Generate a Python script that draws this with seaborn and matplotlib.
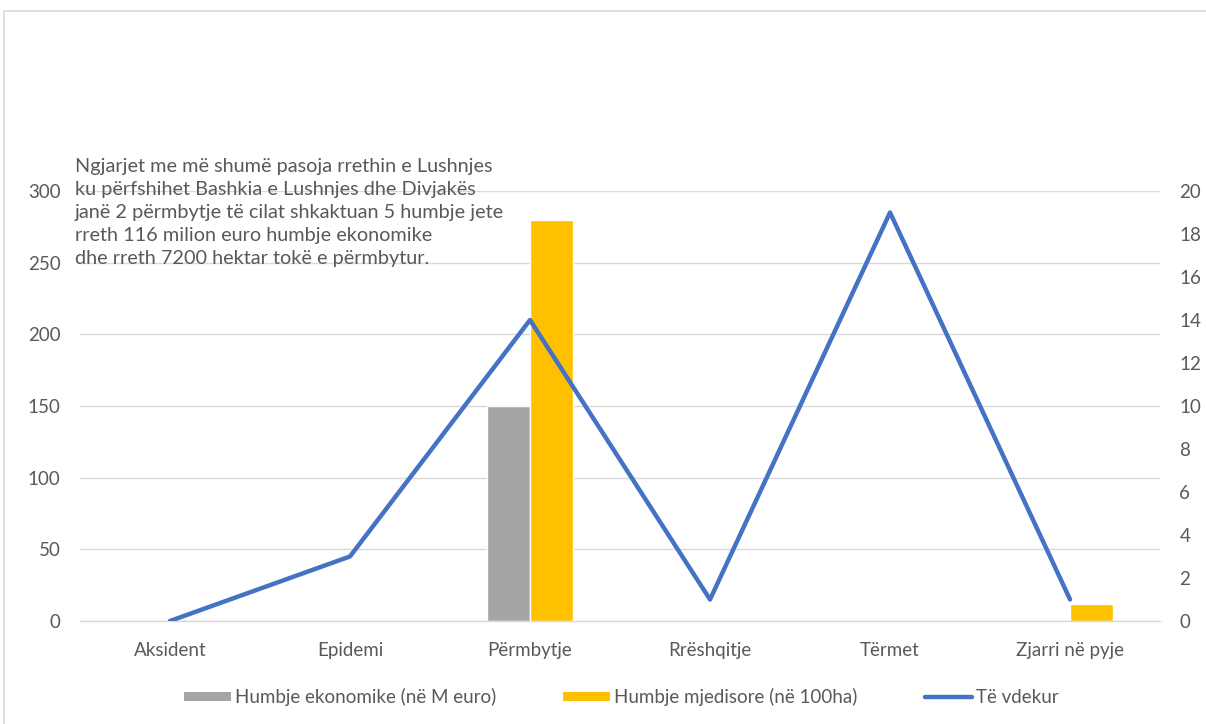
import numpy as np
import pandas as pd
import matplotlib
matplotlib.use("Agg")
import matplotlib.pyplot as plt
from matplotlib.patches import Rectangle, Patch
from matplotlib.lines import Line2D
import seaborn as sns

# Event categories and the series plotted for each
categories = ["Aksident", "Epidemi", "Përmbytje", "Rrëshqitje", "Tërmet", "Zjarri në pyje"]
economic_loss = [0, 0, 150, 0, 0, 0]        # Humbje ekonomike (në M euro)
environmental_loss = [0, 0, 280, 0, 0, 12]  # Humbje mjedisore (në 100ha)
deaths = [0, 3, 14, 1, 19, 1]               # Të vdekur

series_names = ["Humbje ekonomike (në M euro)", "Humbje mjedisore (në 100ha)"]
line_name = "Të vdekur"
note_lines = [
    "Ngjarjet me më shumë pasoja rrethin e Lushnjes",
    "ku përfshihet Bashkia e Lushnjes dhe Divjakës",
    "janë 2 përmbytje të cilat shkaktuan 5 humbje jete",
    "rreth 116 milion euro humbje ekonomike",
    "dhe rreth 7200 hektar tokë e përmbytur.",
]
left_ticks = [0, 50, 100, 150, 200, 250, 300]
right_ticks = [0, 2, 4, 6, 8, 10, 12, 14, 16, 18, 20]

GRAY = "#A5A5A5"
GOLD = "#FFC000"
BLUE = "#4472C4"
TEXT = "#595959"
GRID = "#D9D9D9"
FS = 13.5

sns.set_theme(style="white")
plt.rcParams["font.family"] = ["Lato", "DejaVu Sans"]

bars = pd.DataFrame({
    "Ngjarja": categories * 2,
    "Vlera": economic_loss + environmental_loss,
    "Seria": [series_names[0]] * len(categories) + [series_names[1]] * len(categories),
})
line = pd.DataFrame({"pos": np.arange(len(categories)), "Vlera": deaths})

fig = plt.figure(figsize=(12.06, 7.24), dpi=100)
ax = fig.add_axes([0.0663, 0.1423, 0.8956, 0.5939])

sns.barplot(data=bars, x="Ngjarja", y="Vlera", hue="Seria",
            palette=[GRAY, GOLD], width=0.48, gap=0, saturation=1,
            order=categories, hue_order=series_names, ax=ax, legend=False)
ax.set_xlim(-0.5, len(categories) - 0.5)
ax.set_ylim(0, 300)
ax.set_yticks(left_ticks)
ax.set_xlabel("")
ax.set_ylabel("")
ax.grid(axis="y", color=GRID, linewidth=1)
ax.set_axisbelow(True)
for s in ["top", "left", "right"]:
    ax.spines[s].set_visible(False)
ax.spines["bottom"].set_color(GRID)
ax.spines["bottom"].set_linewidth(1)
ax.tick_params(axis="both", length=0, colors=TEXT, labelsize=FS)
ax.tick_params(axis="y", pad=14)
ax.tick_params(axis="x", pad=15)

ax2 = ax.twinx()
sns.lineplot(data=line, x="pos", y="Vlera", color=BLUE, linewidth=3.2,
             sort=False, ax=ax2, legend=False)
ax2.set_ylim(0, 20)
ax2.set_yticks(right_ticks)
ax2.set_xlim(-0.5, len(categories) - 0.5)
ax2.set_ylabel("")
ax2.set_xlabel("")
ax2.grid(False)
for s in ax2.spines.values():
    s.set_visible(False)
ax2.tick_params(axis="y", length=0, colors=TEXT, labelsize=FS, pad=14)

# Explanatory note in the upper-left corner
fig.text(75 / 1206, 1 - 158 / 724, "\n".join(note_lines), ha="left", va="top",
         fontsize=14.3, color=TEXT, linespacing=1.42)

# Legend under the category axis
handles = [
    Patch(facecolor=GRAY, edgecolor="none", label=series_names[0]),
    Patch(facecolor=GOLD, edgecolor="none", label=series_names[1]),
    Line2D([0], [0], color=BLUE, linewidth=3.2, label=line_name),
]
fig.legend(handles=handles, loc="center", bbox_to_anchor=(0.515, 1 - 697 / 724),
           ncol=3, frameon=False, fontsize=FS, labelcolor=TEXT,
           handlelength=2.5, handleheight=0.4, handletextpad=0.2, columnspacing=3.6)

# Chart-area border
fig.patches.append(Rectangle((4 / 1206, -0.05), 1.2, 1 - 11 / 724 + 0.05,
                             transform=fig.transFigure, fill=False,
                             edgecolor=GRID, linewidth=1.2))

fig.savefig("out.png", dpi=100, facecolor="white")
